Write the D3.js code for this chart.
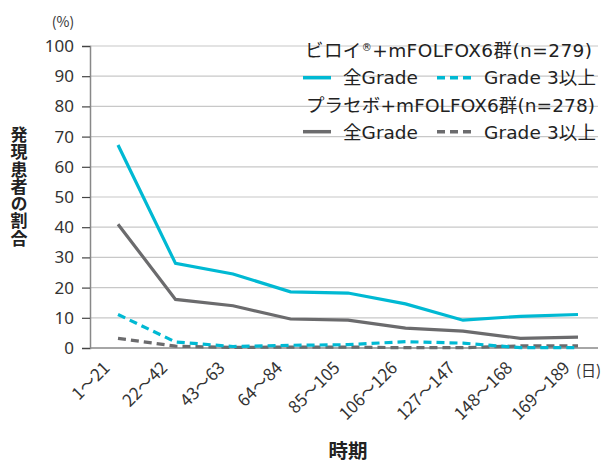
<!DOCTYPE html>
<html><head><meta charset="utf-8">
<script src="https://cdn.jsdelivr.net/npm/d3@7"></script>
<style>body{margin:0;background:#fff}svg{display:block}text{font-family:"Noto Sans CJK JP","Noto Sans",sans-serif}text.lg{font-family:"DejaVu Sans","Noto Sans CJK JP",sans-serif}</style>
</head><body><svg id="c" width="603" height="464"></svg>
<script>
const categories = ["1～21","22～42","43～63","64～84","85～105","106～126","127～147","148～168","169～189"];
const yTicks = [0,10,20,30,40,50,60,70,80,90,100];
const biloiAll = [67.2,28.0,24.5,18.6,18.2,14.6,9.2,10.5,11.1];
const biloiG3 = [11.1,2.0,0.5,0.9,1.1,2.1,1.6,0.1,0.1];
const placeboAll = [41.0,16.1,14.0,9.6,9.2,6.6,5.6,3.2,3.6];
const placeboG3 = [3.2,0.6,0.2,0.3,0.3,0.1,0.1,0.7,0.7];
const yTitle = "発現患者の割合";
const xTitle = "時期";

const cyan = "#00b9d3", gray = "#6b6b6d", txt = "#333";
const svg = d3.select("#c");
const x = d3.scalePoint().domain(categories).range([118,578]);
const y = d3.scaleLinear().domain([0,100]).range([348,46]);

// gridlines
svg.append("g").selectAll("line").data(yTicks.filter(d=>d>0)).join("line")
  .attr("x1",90).attr("x2",598).attr("y1",d=>y(d)).attr("y2",d=>y(d))
  .attr("stroke","#c8c8c8").attr("stroke-width",1.2);

// y axis
const ya = svg.append("g").attr("transform","translate(90,0)")
  .call(d3.axisLeft(y).tickValues(yTicks).tickSize(8).tickPadding(8));
ya.select(".domain").attr("stroke","#888").attr("stroke-width",1.5);
ya.selectAll(".tick line").attr("stroke","#444").attr("stroke-width",1.2);
ya.selectAll("text").attr("font-size",17).attr("fill",txt).style("font-family","'Noto Sans',sans-serif");

// x axis baseline
svg.append("line").attr("x1",90).attr("x2",598).attr("y1",y(0)).attr("y2",y(0)).attr("stroke","#888").attr("stroke-width",1.5);

// x labels
svg.append("g").selectAll("text").data(categories).join("text")
  .attr("transform",d=>`translate(${x(d)-7},${y(0)+21}) rotate(-45)`)
  .attr("text-anchor","end").attr("font-size",17).attr("fill",txt).text(d=>d);

svg.append("text").attr("x",576).attr("y",376).attr("font-size",15).attr("fill",txt).text("(日)");
svg.append("text").attr("x",63).attr("y",27).attr("text-anchor","middle").attr("font-size",14).attr("fill",txt).text("(%)");

// y title (vertical)
svg.append("text").attr("x",19).attr("y",126).attr("font-size",17).attr("font-weight","bold").attr("fill","#222")
  .style("writing-mode","vertical-rl").style("letter-spacing","0.3px").text(yTitle);
svg.append("text").attr("x",348).attr("y",458).attr("text-anchor","middle").attr("font-size",19.5).attr("font-weight","bold").attr("fill","#222").text(xTitle);

// lines
const line = d3.line().x((d,i)=>x(categories[i])).y(d=>y(d));
function draw(data,color,dash){
  svg.append("path").datum(data).attr("d",line).attr("fill","none").attr("stroke",color)
    .attr("stroke-width",3.2).attr("stroke-dasharray",dash?"8,5":null);
}
draw(placeboG3,gray,true);
draw(biloiG3,cyan,true);
draw(placeboAll,gray,false);
draw(biloiAll,cyan,false);

// legend
const lg = svg.append("g");
const lfs = 18.5;
lg.append("text").attr("class","lg").attr("x",305).attr("y",57).attr("font-size",lfs).attr("fill","#222")
  .attr("textLength",287).attr("lengthAdjust","spacing")
  .html("ビロイ<tspan font-size='10' dy='-6'>®</tspan><tspan dy='6'>+mFOLFOX6群(n=279)</tspan>");
lg.append("text").attr("class","lg").attr("x",306).attr("y",111.5).attr("font-size",lfs).attr("fill","#222")
  .attr("textLength",289).attr("lengthAdjust","spacing").text("プラセボ+mFOLFOX6群(n=278)");
[[83.5,77.7,cyan],[138.5,131.7,gray]].forEach(([yy,ly,c])=>{
  lg.append("line").attr("x1",303).attr("x2",331).attr("y1",ly).attr("y2",ly).attr("stroke",c).attr("stroke-width",3.5);
  lg.append("text").attr("class","lg").attr("x",343).attr("y",yy).attr("font-size",lfs).attr("fill","#222")
    .attr("textLength",75).attr("lengthAdjust","spacing").text("全Grade");
  lg.append("line").attr("x1",437).attr("x2",471).attr("y1",ly).attr("y2",ly).attr("stroke",c).attr("stroke-width",3.5).attr("stroke-dasharray","8,5");
  lg.append("text").attr("class","lg").attr("x",484).attr("y",yy).attr("font-size",lfs).attr("fill","#222")
    .attr("textLength",112).attr("lengthAdjust","spacing").text("Grade 3以上");
});
</script></body></html>
